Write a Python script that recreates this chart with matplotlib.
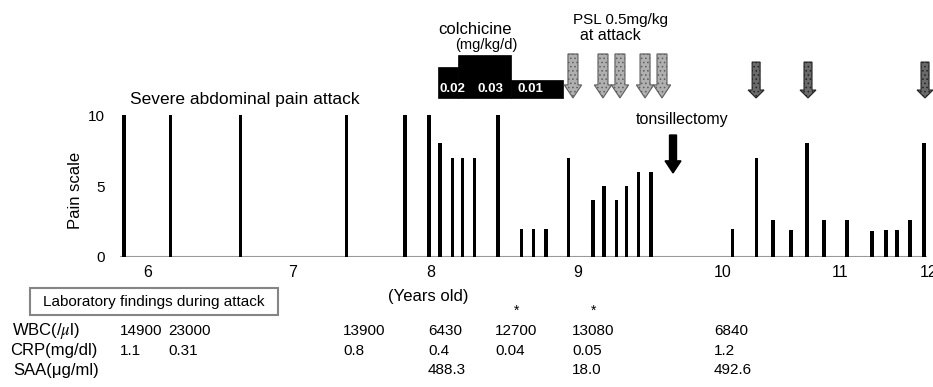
import numpy as np
import matplotlib.pyplot as plt
from matplotlib.patches import FancyArrow, Rectangle
from matplotlib.transforms import blended_transform_factory

plt.rcParams['font.family'] = ['Liberation Sans', 'DejaVu Sans']
plt.rcParams['mathtext.fontset'] = 'stix'
plt.rcParams['hatch.linewidth'] = 0.6

# attacks: position on the age axis and pain score
attack_age = [5.834, 6.152, 6.641, 7.366, 7.772, 7.938, 8.014, 8.097, 8.172, 8.255,
              8.414, 8.579, 8.662, 8.745, 8.897, 9.069, 9.145, 9.228, 9.303, 9.386,
              9.469, 10.034, 10.2, 10.31, 10.434, 10.545, 10.662, 10.821, 10.993,
              11.09, 11.166, 11.255, 11.352]
pain = [10, 10, 10, 10, 10, 10, 8, 7, 7, 7,
        10, 2, 2, 2, 7, 4, 5, 4, 5, 6,
        6, 2, 7, 2.6, 1.9, 8, 2.6, 2.6, 1.8,
        1.9, 1.9, 2.6, 8]

# age axis ticks
age_ticks = [6, 7, 7.952, 8.966, 9.966, 10.772, 11.38]
age_labels = ['6', '7', '8', '9', '10', '11', '12']

# colchicine periods (mg/kg/d)
colch_start = [8.0, 8.138, 8.503]
colch_end = [8.138, 8.503, 8.862]
colch_dose = [0.02, 0.03, 0.01]
colch_label_x = [8.103, 8.359, 8.641]

# PSL at attack (gray arrows) and later attacks (dark arrows)
psl_age = [8.931, 9.138, 9.255, 9.428, 9.545]
late_age = [10.194, 10.552, 11.359]
tonsil_age = 9.621

# laboratory findings during attack
lab_age = [5.807, 6.138, 7.345, 7.931, 8.393, 8.924, 9.903]
wbc = ['14900', '23000', '13900', '6430', '12700', '13080', '6840']
crp = ['1.1', '0.31', '0.8', '0.4', '0.04', '0.05', '1.2']
saa = ['', '', '', '488.3', '', '18.0', '492.6']
starred = [False, False, False, False, True, True, False]

W, H = 933, 387
fig = plt.figure(figsize=(W / 100, H / 100), dpi=100)
ax = fig.add_axes([120 / W, 130 / H, 813 / W, 257 / H])
ax.set_xlim(5.807, 11.414)
ax.set_ylim(0, 18.1)
for s in ax.spines.values():
    s.set_visible(False)

# baseline and bars
ax.hlines(0, 5.807, 11.37, color='#999999', lw=1.5, zorder=1)
widths = [0.031 if (a > 10.25 or i in (0, 4)) else 0.021 for i, a in enumerate(attack_age)]
ax.bar(attack_age, pain, width=widths, color='black', zorder=2)

ax.set_yticks([0, 5, 10])
ax.set_xticks(age_ticks)
ax.set_xticklabels(age_labels)
ax.tick_params(axis='y', length=0, pad=11, labelsize=11)
ax.tick_params(axis='x', length=0, pad=6, labelsize=11.5)

ax.text(5.876, 11.06, 'Severe abdominal pain attack', fontsize=12.5, va='center', ha='left')

# colchicine steps (height scaled from dose)
base = 11.2
for x0, x1, d, lx in zip(colch_start, colch_end, colch_dose, colch_label_x):
    ax.add_patch(Rectangle((x0, base), x1 - x0, 0.4 + d * 88, facecolor='black',
                           edgecolor='black', lw=0.5))
    ax.text(lx, base + 0.62, f'{d:.2f}', color='white', fontsize=9.5, fontweight='bold',
            ha='center', va='center')
ax.text(8.0, 15.99, 'colchicine', fontsize=12, va='center', ha='left')
ax.text(8.117, 14.93, '(mg/kg/d)', fontsize=10.5, va='center', ha='left')
ax.text(8.931, 16.69, 'PSL 0.5mg/kg', fontsize=11, va='center', ha='left')
ax.text(8.979, 15.63, 'at attack', fontsize=11.5, va='center', ha='left')

for x in psl_age:
    ax.add_patch(FancyArrow(x, 14.3, 0, -3.1, width=0.069, head_width=0.12,
                            head_length=0.92, length_includes_head=True,
                            facecolor='#b0b0b0', edgecolor='#5e5e5e', hatch='....', lw=0.8))
for x in late_age:
    ax.add_patch(FancyArrow(x, 13.73, 0, -2.53, width=0.055, head_width=0.11,
                            head_length=0.56, length_includes_head=True,
                            facecolor='#6a6a6a', edgecolor='#222222', hatch='....', lw=0.8))

ax.add_patch(FancyArrow(tonsil_age, 8.59, 0, -2.67, width=0.048, head_width=0.11,
                        head_length=0.85, length_includes_head=True,
                        facecolor='black', edgecolor='black'))
ax.text(9.683, 9.65, 'tonsillectomy', fontsize=11.5, ha='center', va='center')

# labels outside the axes
fig.text(75 / W, 1 - 190 / H, 'Pain scale', rotation=90, fontsize=12, ha='center', va='center')
fig.text(428 / W, 1 - 296 / H, '(Years old)', fontsize=12, ha='center', va='center')
fig.patches.append(Rectangle((30 / W, 1 - 315 / H), 248 / W, 27 / H, transform=fig.transFigure,
                             fill=False, edgecolor='#858585', lw=1.5))
fig.text(154 / W, 1 - 302 / H, 'Laboratory findings during attack', fontsize=11,
         ha='center', va='center')

rows_y = [331, 351, 370]
fig.text(12 / W, 1 - rows_y[0] / H, r'WBC(/$\mu$l)', fontsize=12, va='center')
fig.text(10 / W, 1 - rows_y[1] / H, 'CRP(mg/dl)', fontsize=12, va='center')
fig.text(13 / W, 1 - rows_y[2] / H, 'SAA(μg/ml)', fontsize=12, va='center')

tr = blended_transform_factory(ax.transData, fig.transFigure)
for x, w, c, s, st in zip(lab_age, wbc, crp, saa, starred):
    for val, ry in zip([w, c, s], rows_y):
        if val:
            fig.text(x, 1 - ry / H, val, fontsize=11, va='center', ha='left', transform=tr)
    if st:
        fig.text(x + 0.15, 1 - 311 / H, '*', fontsize=10, va='center', ha='center', transform=tr)

fig.savefig('out.png', dpi=100)
